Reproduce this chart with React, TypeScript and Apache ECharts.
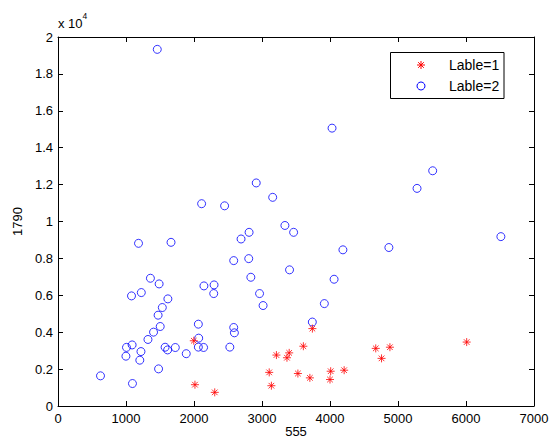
import React, { useEffect, useRef } from "react";
import * as echarts from "echarts";

const FONT = "'Liberation Sans', Arial, Helvetica, sans-serif";

const legendNames = ["Lable=1", "Lable=2"];

const label1X = [1997, 2014, 2305, 3106, 3138, 3212, 3367, 3400, 3528, 3608, 3704, 3741, 4000, 4010, 4208, 4673, 4758, 4881, 6010];
const label1Y = [3536, 1155, 740, 1822, 1100, 2760, 2616, 2880, 1760, 3240, 1525, 4195, 1435, 1885, 1940, 3123, 2582, 3186, 3465];

const label2X = [
  1460, 4030, 5510, 5280, 2915, 3157, 2112, 2450, 3337, 3465, 2810, 2692, 1184, 1662, 6513, 4866, 4190, 2584, 2805, 3405,
  2836, 4060, 1359, 1487, 2146, 2295, 2290, 2964, 1081, 1225, 3016, 3917, 1616, 1534, 1472, 3740, 2064, 1503, 2584, 2594,
  1405, 1323, 2069, 1090, 1007, 1575, 1612, 1725, 2064, 2141, 2527, 1886, 1220, 999, 1203, 1479, 625, 1095,
];
const label2Y = [
  19330, 15060, 12750, 11795, 12090, 11310, 10965, 10850, 9785, 9413, 9413, 9052, 8817, 8871, 9180, 8590, 8465, 7880, 7988, 7380,
  6978, 6870, 6924, 6617, 6509, 6563, 6094, 6094, 5968, 6148, 5445, 5550, 5806, 5337, 4922, 4550, 4435, 4309, 4255, 3967,
  4003, 3606, 3678, 3310, 3177, 3185, 3040, 3170, 3191, 3173, 3191, 2835, 2950, 2700, 2483, 2012, 1635, 1218,
];

const xTickLabels = ["0", "1000", "2000", "3000", "4000", "5000", "6000", "7000"];
const yTickLabels = ["0", "0.2", "0.4", "0.6", "0.8", "1", "1.2", "1.4", "1.6", "1.8", "2"];
const xName = "555";
const yName = "1790";

const STAR = "path://M0,-1L0,1M-1,0L1,0M-0.7,-0.7L0.7,0.7M-0.7,0.7L0.7,-0.7";
const RED = "#ff0000";
const BLUE = "#0000ff";

function starLines(cx: number, cy: number, r: number, color: string) {
  const d = r * 0.7;
  const segs = [
    [cx, cy - r, cx, cy + r],
    [cx - r, cy, cx + r, cy],
    [cx - d, cy - d, cx + d, cy + d],
    [cx - d, cy + d, cx + d, cy - d],
  ];
  return segs.map(([x1, y1, x2, y2]) => ({
    type: "line",
    z: 101,
    silent: true,
    shape: { x1, y1, x2, y2 },
    style: { stroke: color, lineWidth: 1 },
  }));
}

export default function App() {
  const ref = useRef<HTMLDivElement>(null);
  useEffect(() => {
    if (!ref.current) return;
    const chart = echarts.init(ref.current, undefined, { renderer: "svg" });
    const axisCommon = {
      type: "value" as const,
      axisLine: { show: true, onZero: false, lineStyle: { color: "#000", width: 1 } },
      axisTick: { show: true, inside: true, length: 5, lineStyle: { color: "#000", width: 1 } },
      splitLine: { show: false },
    };
    const xMin = 0;
    const xInt = 1000;
    const xMax = xInt * (xTickLabels.length - 1);

    // legend box (MATLAB style)
    const lgX = 390.5;
    const lgY = 52.5;
    const lgW = 113.5;
    const lgH = 46;
    const iconX = 421;
    const textX = 449;
    const rowY = [65, 86];

    chart.setOption({
      animation: false,
      backgroundColor: "#fff",
      textStyle: { fontFamily: FONT },
      grid: { left: 58, right: 15, top: 37, bottom: 35, containLabel: false, outerBoundsMode: "none" },
      xAxis: [
        {
          ...axisCommon,
          position: "bottom",
          min: xMin,
          max: xMax,
          interval: xInt,
          axisLabel: {
            color: "#000",
            fontSize: 13,
            margin: 6,
            fontFamily: FONT,
            formatter: (v: number) => xTickLabels[Math.round(v / xInt)] ?? "",
          },
        },
        {
          ...axisCommon,
          position: "top",
          min: xMin,
          max: xMax,
          interval: xInt,
          axisLabel: { show: false },
        },
      ],
      yAxis: [
        {
          ...axisCommon,
          position: "left",
          min: 0,
          max: 20000,
          interval: 2000,
          axisLabel: {
            color: "#000",
            fontSize: 13,
            margin: 5,
            fontFamily: FONT,
            formatter: (v: number) => yTickLabels[Math.round(v / 2000)] ?? "",
          },
          name: yName,
          nameLocation: "middle",
          nameGap: 32,
          nameRotate: 90,
          nameTextStyle: { color: "#000", fontSize: 13, fontFamily: FONT },
        },
        {
          ...axisCommon,
          position: "right",
          min: 0,
          max: 20000,
          interval: 2000,
          axisLabel: { show: false },
        },
      ],
      graphic: [
        {
          type: "text",
          left: 58,
          top: 17,
          style: { text: "x 10", fill: "#000", font: `13px ${FONT}` },
        },
        {
          type: "text",
          left: 82.5,
          top: 11,
          style: { text: "4", fill: "#000", font: `8.5px ${FONT}` },
        },
        {
          type: "text",
          x: 296,
          y: 425,
          style: {
            text: xName,
            fill: "#000",
            font: `13px ${FONT}`,
            textAlign: "center",
            textVerticalAlign: "top",
            verticalAlign: "top",
          },
        },
        {
          type: "rect",
          z: 100,
          silent: true,
          shape: { x: lgX, y: lgY, width: lgW, height: lgH },
          style: { fill: "#fff", stroke: "#000", lineWidth: 1 },
        },
        ...starLines(iconX, rowY[0], 4, RED),
        {
          type: "circle",
          z: 101,
          silent: true,
          shape: { cx: iconX, cy: rowY[1], r: 4 },
          style: { fill: "none", stroke: BLUE, lineWidth: 1 },
        },
        ...legendNames.map((name, i) => ({
          type: "text",
          z: 101,
          silent: true,
          x: textX,
          y: rowY[i],
          style: {
            text: name,
            fill: "#000",
            font: `14px ${FONT}`,
            textAlign: "left",
            textVerticalAlign: "middle",
            verticalAlign: "middle",
          },
        })),
      ],
      series: [
        {
          name: legendNames[0],
          type: "scatter",
          symbol: STAR,
          symbolSize: 8,
          itemStyle: { color: RED, borderColor: RED, borderWidth: 1 },
          data: label1X.map((x, i) => [x, label1Y[i]]),
          z: 3,
        },
        {
          name: legendNames[1],
          type: "scatter",
          symbol: "circle",
          symbolSize: 8,
          itemStyle: { color: "rgba(0,0,0,0)", borderColor: BLUE, borderWidth: 1 },
          data: label2X.map((x, i) => [x, label2Y[i]]),
          z: 2,
        },
      ],
    });
    return () => chart.dispose();
  }, []);
  return (
    <div
      ref={ref}
      style={{ position: "absolute", left: 0, top: 0, width: 549, height: 441 }}
    />
  );
}
